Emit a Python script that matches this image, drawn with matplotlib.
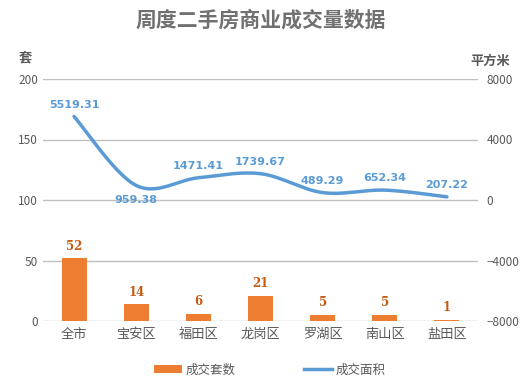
import matplotlib
matplotlib.use('Agg')
import matplotlib.pyplot as plt
import numpy as np
from matplotlib.lines import Line2D
from matplotlib.patches import Patch

plt.rcParams['font.family'] = ['Noto Sans CJK SC', 'DejaVu Sans']

# 数据
districts = ["全市", "宝安区", "福田区", "龙岗区", "罗湖区", "南山区", "盐田区"]
units = [52, 14, 6, 21, 5, 5, 1]
areas = [5519.31, 959.38, 1471.41, 1739.67, 489.29, 652.34, 207.22]
left_ticks = [0, 50, 100, 150, 200]
right_ticks = [-8000, -4000, 0, 4000, 8000]

bar_color = '#ED7D31'
line_color = '#5B9BD5'
text_gray = '#595959'


def smooth_curve(x, y, n=30):
    # Excel 风格的平滑线（Catmull-Rom 贝塞尔）
    x = np.asarray(x, float)
    y = np.asarray(y, float)
    px = np.concatenate([[x[0]], x, [x[-1]]])
    py = np.concatenate([[y[0]], y, [y[-1]]])
    xs, ys = [], []
    t = np.linspace(0, 1, n)
    for i in range(1, len(px) - 2):
        p0 = np.array([px[i], py[i]])
        p3 = np.array([px[i + 1], py[i + 1]])
        p1 = p0 + (np.array([px[i + 1], py[i + 1]]) - np.array([px[i - 1], py[i - 1]])) / 6
        p2 = p3 - (np.array([px[i + 2], py[i + 2]]) - np.array([px[i], py[i]])) / 6
        b = ((1 - t) ** 3)[:, None] * p0 + (3 * (1 - t) ** 2 * t)[:, None] * p1 \
            + (3 * (1 - t) * t ** 2)[:, None] * p2 + (t ** 3)[:, None] * p3
        xs.extend(b[:, 0])
        ys.extend(b[:, 1])
    return np.array(xs), np.array(ys)


fig = plt.figure(figsize=(5.27, 3.88), dpi=100)
ax = fig.add_axes([43 / 527, 1 - 321 / 388, 435 / 527, 242 / 388])
ax2 = ax.twinx()

x = np.arange(len(districts))
ax.bar(x, units, width=0.4, color=bar_color, zorder=2)
for xi, v in zip(x, units):
    ax.annotate(str(v), (xi, v), xytext=(0, 4), textcoords='offset points',
                ha='center', va='bottom', fontsize=8.5, fontweight='bold',
                color='#C55A11', family=['DejaVu Serif'])

ax.set_xlim(-0.5, len(districts) - 0.5)
ax.set_ylim(0, 200)
ax.set_yticks(left_ticks)
ax.grid(axis='y', color='#BFBFBF', linewidth=1, zorder=0)
ax.set_axisbelow(True)
ax.set_xticks(x)
ax.set_xticklabels(districts, fontsize=9.5, color=text_gray)
ax.tick_params(axis='both', length=0, labelsize=8.5, colors=text_gray)
ax.tick_params(axis='x', labelsize=9.5, pad=5)
for s in ax.spines.values():
    s.set_visible(False)

sx, sy = smooth_curve(x, areas)
ax2.plot(sx, sy, color=line_color, linewidth=2.5, solid_capstyle='round', zorder=3)
offsets = [(0, 5), (0, -14), (0, 5), (0, 5), (0, 5), (0, 5), (0, 5)]
for xi, v, off in zip(x, areas, offsets):
    ax2.annotate(f"{v:.2f}", (xi, v), xytext=off, textcoords='offset points',
                 ha='center', va='bottom', fontsize=8, fontweight='bold',
                 color=line_color, family=['DejaVu Sans'])
ax2.set_ylim(-8000, 8000)
ax2.set_yticks(right_ticks)
ax2.tick_params(axis='y', length=0, labelsize=8.5, colors=text_gray, pad=6)
for s in ax2.spines.values():
    s.set_visible(False)

fig.text(261 / 527, 1 - 20 / 388, "周度二手房商业成交量数据", ha='center', va='center',
         fontsize=15, fontweight='bold', color='#707070')
fig.text(25 / 527, 1 - 57 / 388, "套", ha='center', va='center',
         fontsize=9.5, fontweight='bold', color=text_gray)
fig.text(490 / 527, 1 - 61 / 388, "平方米", ha='center', va='center',
         fontsize=9.5, fontweight='bold', color=text_gray)

handles = [Patch(facecolor=bar_color, edgecolor='none'),
           Line2D([0], [0], color=line_color, linewidth=2.5)]
fig.legend(handles, ["成交套数", "成交面积"], loc='center', ncol=2,
           bbox_to_anchor=(270 / 527, 1 - 370 / 388), frameon=False, fontsize=9,
           handlelength=2.2, handleheight=0.6, handletextpad=0.3,
           columnspacing=5.5, labelcolor=text_gray)

fig.savefig('out.png', dpi=100)
